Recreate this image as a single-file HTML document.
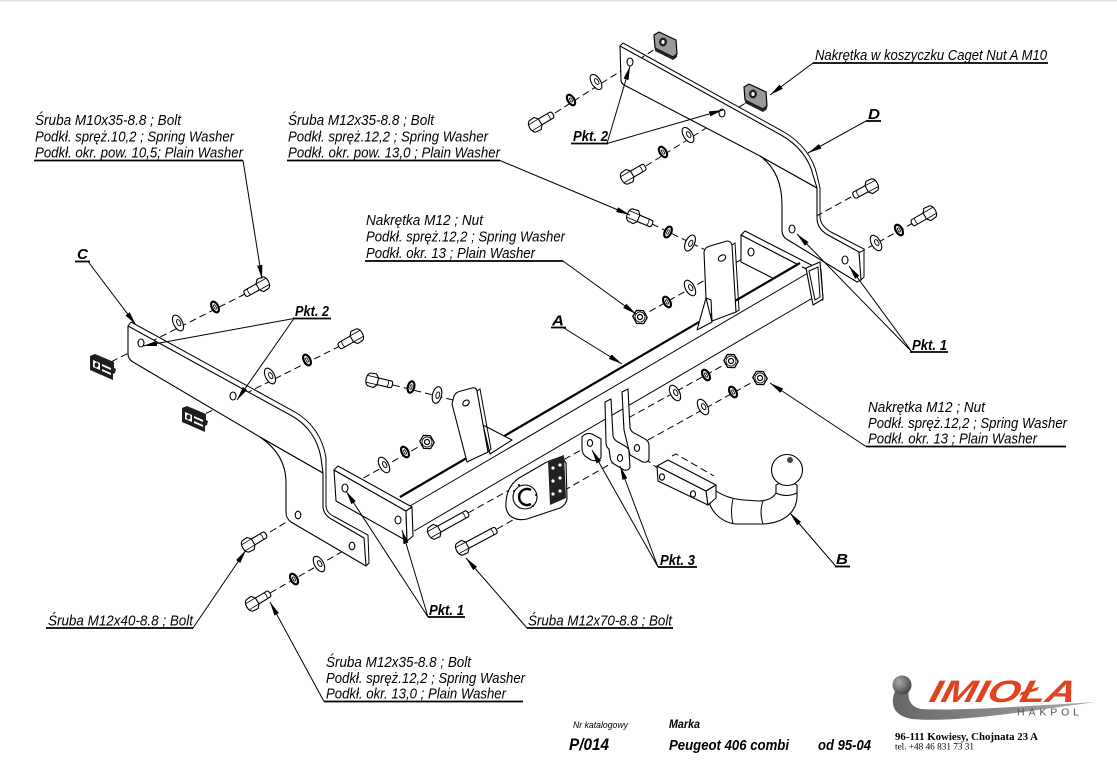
<!DOCTYPE html>
<html><head><meta charset="utf-8"><title>P/014 Peugeot 406 combi</title>
<style>
html,body{margin:0;padding:0;background:#fff;width:1117px;height:780px;overflow:hidden}
svg{display:block}
.t{font-family:"Liberation Sans",Arial,sans-serif;font-style:italic;font-size:15px;fill:#000}
.b{font-family:"Liberation Sans",Arial,sans-serif;font-style:italic;font-weight:bold;font-size:15px;fill:#000}
.u{stroke:#000;stroke-width:1.8}
.l{stroke:#000;stroke-width:1;fill:none}
.d{stroke:#000;stroke-width:1;fill:none;stroke-dasharray:7 4}
.s{stroke:#000;stroke-width:1.1;fill:#fff;stroke-linejoin:round}
.n{stroke:#000;stroke-width:1;fill:none}
</style></head><body>
<svg width="1117" height="780" viewBox="0 0 1117 780" xmlns="http://www.w3.org/2000/svg">
<defs>
<marker id="a" viewBox="0 0 14 6" markerWidth="14" markerHeight="6" refX="14" refY="3" orient="auto" markerUnits="userSpaceOnUse"><path d="M0,0.4 L14,3 L0,5.6 Z" fill="#000"/></marker>
<g id="pw"><ellipse rx="4.5" ry="8.5" fill="#fff" stroke="#000" stroke-width="1.1"/><ellipse cx="0.8" rx="1.8" ry="3.3" fill="#fff" stroke="#000" stroke-width="0.9"/></g>
<g id="sw"><ellipse rx="3.2" ry="5.8" fill="#fff" stroke="#000" stroke-width="2.2"/><ellipse rx="1" ry="2.4" fill="#fff" stroke="#000" stroke-width="0.8"/></g>
<g id="nut"><polygon points="0,-7.5 6,-4 6,4 0,7.5 -6,4 -6,-4" fill="#fff" stroke="#000" stroke-width="1.3"/><circle r="5" fill="none" stroke="#000" stroke-width="0.8"/><circle r="2.5" fill="#fff" stroke="#000" stroke-width="1.2"/></g>
<g id="b">
<path d="M4,-3.4 H19 Q21,-3.4 21,0 Q21,3.4 19,3.4 H4" fill="#fff" stroke="#000" stroke-width="1.1"/>
<path d="M16,-3.4 Q17.5,0 16,3.4" fill="none" stroke="#000" stroke-width="0.8"/>
<path d="M-3,-6.5 L3,-7 L6,-3.5 L6,3.5 L3,7 L-3,6.5 Q-6,5 -6,0 Q-6,-5 -3,-6.5 Z" fill="#fff" stroke="#000" stroke-width="1.1"/>
<path d="M-5.5,-3.5 L6,-3.5 M-5.5,3.5 L6,3.5" stroke="#000" stroke-width="0.8"/>
</g>
<g id="bl">
<path d="M4,-3.4 H37 Q39,-3.4 39,0 Q39,3.4 37,3.4 H4" fill="#fff" stroke="#000" stroke-width="1.1"/>
<path d="M34,-3.4 Q35.5,0 34,3.4" fill="none" stroke="#000" stroke-width="0.8"/>
<path d="M-3,-6.5 L3,-7 L6,-3.5 L6,3.5 L3,7 L-3,6.5 Q-6,5 -6,0 Q-6,-5 -3,-6.5 Z" fill="#fff" stroke="#000" stroke-width="1.1"/>
<path d="M-5.5,-3.5 L6,-3.5 M-5.5,3.5 L6,3.5" stroke="#000" stroke-width="0.8"/>
</g>
<g id="cg">
<path d="M0,1 L5,-1 L24,7 L24,13 L26,14 L25,18 L23,19 L23,25 L0,15 Z" fill="#1e1e1e"/>
<path d="M3,5 L10,8 L10,15 L3,12 Z" fill="#fff"/>
<ellipse cx="6.5" cy="10" rx="2" ry="2.5" fill="#1e1e1e"/>
<path d="M12,9 L21,13 L21,15 L12,11 Z M12,14 L21,18 L21,20 L12,16 Z" fill="#fff"/>
</g>
<g id="cg2">
<path d="M0,1 L5,-2 L22,6 L23,20 L19,23 L1,14 Z" fill="#999" stroke="#000" stroke-width="1.2"/>
<path d="M1,14 L19,23 L23,20 L23,23 L19,26 L1,17 Z" fill="#222"/>
<ellipse cx="9" cy="8" rx="4" ry="4.5" fill="#222"/>
<ellipse cx="9" cy="8" rx="1.6" ry="2" fill="#fff"/>
</g>
<radialGradient id="ball" cx="0.35" cy="0.35" r="0.7"><stop offset="0" stop-color="#aaa"/><stop offset="1" stop-color="#444"/></radialGradient>
<linearGradient id="sw2" x1="0" y1="0" x2="1" y2="0"><stop offset="0" stop-color="#666"/><stop offset="1" stop-color="#aaa"/></linearGradient>
</defs>

<rect x="0" y="0" width="1117" height="1.5" fill="#ddd"/>

<!-- dashed axis lines -->
<path class="d" d="M245,294 L103,366"/>
<path class="d" d="M340,346 L195,419"/>
<path class="d" d="M270,532 L298,515"/>
<path class="d" d="M270,593 L352,546"/>
<path class="d" d="M393,385 L465,403"/>
<path class="d" d="M468,513 L590,445"/>
<path class="d" d="M497,529 L619,459"/>
<path class="d" d="M555,113 L663,44"/>
<path class="d" d="M646,166 L752,99"/>
<path class="d" d="M652,224 L720,257"/>
<path class="d" d="M851,197 L793,229"/>
<path class="d" d="M913,223 L846,260"/>
<path class="d" d="M427,442 L346,488"/>
<path class="d" d="M640,317 L751,254"/>
<path class="d" d="M731,361 L630,417"/>
<path class="d" d="M760,378 L648,440"/>
<path class="d" d="M636,452 L660,470"/>

<!-- Bracket C -->
<path class="s" d="M260,437 L323,473 L323,506 C323,513 327,517 333,520 L364,538 L366,566 L291,522 C287,519 286,516 286,512 L286,482 C286,462 276,448 260,437 Z"/>
<path class="s" d="M128,326 L292,416 C308,425 318,440 321,458 L323,473 L260,437 L133,362 Q128,359 128,354 Z"/>
<path class="n" d="M131,322 L295,412 C312,422 323,438 326,458 L326,505 C326,511 329,514 335,517 L368,535 L369,563 L366,566"/>
<line class="n" x1="128" y1="326" x2="131" y2="322"/>
<ellipse cx="298" cy="515" rx="2.8" ry="3.8" class="s"/>
<ellipse cx="352" cy="546" rx="2.8" ry="3.8" class="s"/>
<ellipse cx="141" cy="343" rx="3" ry="4" class="s"/>
<ellipse cx="233" cy="396" rx="3" ry="4" class="s"/>

<!-- Bracket D -->
<path class="s" d="M760,156 L817,188 L817,218 C817,226 821,231 828,235 L859,252 L861,280 L857,282 L788,240 C784,238 782,235 782,230 L782,205 C782,182 774,166 760,156 Z"/>
<path class="s" d="M620,46 L781,135 C797,144 809,158 813,175 L817,188 L760,156 L626,86 Q621,84 621,80 Z"/>
<path class="n" d="M623,43 L784,132 C801,142 813,157 817,175 L820,188 L820,216 C820,223 824,228 831,232 L864,249 L864,277 L861,280"/>
<line class="n" x1="620" y1="46" x2="623" y2="43"/>
<ellipse cx="630" cy="62" rx="3" ry="4" class="s"/>
<ellipse cx="722" cy="113" rx="3" ry="4" class="s"/>
<ellipse cx="792" cy="229" rx="3" ry="4" class="s"/>
<ellipse cx="845" cy="260" rx="3" ry="4" class="s"/>

<!-- right bar plate (behind bar) -->
<path class="s" d="M741,235 L816,274 L816,300 L741,262 Z"/>
<path class="s" d="M741,235 L745,231 L821,270 L816,274 Z"/>
<path class="s" d="M816,274 L821,270 L823,300 L816,300Z"/>
<ellipse cx="751" cy="252" rx="3" ry="4" class="s"/>

<!-- Main bar A -->
<path d="M398,498 L800,263 L818,296 L414,531 Z" fill="#fff"/>
<line x1="400" y1="497" x2="800" y2="263" stroke="#000" stroke-width="2.2"/>
<line x1="410" y1="506" x2="808" y2="273" class="n"/>
<line x1="414" y1="531" x2="816" y2="296" class="n"/>
<path class="s" d="M806,268 L820,262 L823,299 L813,305 Z"/>
<path class="n" d="M809,271 L818,267 L820,297 L815,300 Z"/>

<!-- left bar plate -->
<path class="s" d="M334,470 L406,511 L407,541 L336,501 Z"/>
<path class="s" d="M334,470 L338,466 L412,507 L406,511 Z"/>
<path class="s" d="M406,511 L412,507 L413,536 L407,541 Z"/>
<ellipse cx="345" cy="488" rx="3" ry="4" class="s"/>
<ellipse cx="398" cy="520" rx="3" ry="4" class="s"/>

<!-- left vertical bracket -->
<path class="s" d="M483,425 L512,440 L490,454 Z"/>
<path class="s" d="M452,404 L454,396 Q456,392 461,391 L472,388 Q476,387 477,391 L488,452 L467,462 Z"/>
<path class="n" d="M477,391 L480,389 L491,449 L488,452"/>
<ellipse cx="466" cy="403" rx="3.5" ry="2.6" transform="rotate(-35 466 403)" class="s"/>

<!-- right vertical bracket -->
<path class="s" d="M706,298 L697,330 L712,322 Z"/>
<path class="s" d="M704,252 Q705,247 710,246 L727,241 Q731,241 732,245 L736,312 L712,321 L711,300 L706,298 Z"/>
<path class="n" d="M732,245 L735,243 L739,310 L736,312"/>
<ellipse cx="722" cy="258" rx="4" ry="2.8" transform="rotate(-30 722 258)" class="s"/>

<!-- electrical socket -->
<path class="s" d="M512,517 Q505,513 506,502 Q507,486 519,478 L545,463 Q556,457 563,459 L566,463 L567,499 Q566,505 560,508 L527,519 Q518,521 512,517 Z"/>
<path d="M548,461 L564,455 L566,498 L550,505 Z" fill="#222"/>
<g fill="#fff"><circle cx="553" cy="468" r="1.6"/><circle cx="560" cy="465" r="1.6"/><circle cx="553" cy="481" r="1.6"/><circle cx="560" cy="478" r="1.6"/><circle cx="553" cy="494" r="1.6"/><circle cx="560" cy="491" r="1.6"/></g>
<circle cx="525" cy="497" r="12" class="s"/>
<path d="M531,490 A8,8 0 1 0 531,504" fill="none" stroke="#000" stroke-width="2.5"/>
<g fill="#000"><circle cx="514" cy="491" r="1"/><circle cx="519" cy="485" r="1"/><circle cx="536" cy="495" r="1"/><circle cx="533" cy="506" r="1"/></g>

<!-- Pkt 3 hitch bracket -->
<path class="s" d="M582,437 Q586,432 592,434 L601,439 L601,458 Q597,462 591,460 L585,456 Q582,453 582,448 Z"/>
<ellipse cx="590" cy="443" rx="2.6" ry="3.4" class="s"/>
<path class="s" d="M622,392 L628,389 L630,428 Q631,432 636,434 L645,439 Q649,441 649,446 L649,459 Q648,463 643,462 L630,455 L624,430 Z"/>
<ellipse cx="637" cy="448" rx="2.6" ry="3.4" class="s"/>
<path class="s" d="M605,402 L611,399 L613,436 Q614,440 618,442 L625,446 Q629,448 629,452 L630,467 Q629,471 624,470 L614,464 Q610,461 610,456 L609,449 Q606,447 606,443 Z"/>
<ellipse cx="620" cy="458" rx="2.6" ry="3.4" class="s"/>

<!-- hitch B -->
<path class="s" d="M712,488 C722,496 732,499 744,500 L758,501 C768,501 773,498 776,493 L797,493 C798,507 790,522 764,524 L735,524 C722,522 714,514 710,505 Z"/>
<path class="n" d="M733,499 Q730,512 733,524 M763,501 Q759,512 763,524"/>
<path class="s" d="M776,485 Q786,479 797,485 L797,493 Q786,498 776,493 Z"/>
<circle cx="787" cy="470" r="15.5" class="s"/>
<circle cx="790" cy="460" r="3" fill="#444"/>
<path class="s" d="M657,466 L706,491 L708,505 L658,481 Z"/>
<path class="s" d="M657,466 L668,460 L716,485 L706,491 Z"/>
<path class="s" d="M706,491 L716,485 L716,498 L708,505 Z"/>
<ellipse cx="662" cy="477" rx="2.5" ry="3.2" class="s"/>
<ellipse cx="693" cy="494" rx="2.5" ry="3.2" class="s"/>
<path class="d" d="M672,456 L676,454 L714,476"/>

<!-- bolts -->
<use href="#b" transform="translate(263,284) rotate(151)"/>
<use href="#b" transform="translate(357,336) rotate(150)"/>
<use href="#b" transform="translate(248,545) rotate(-31)"/>
<use href="#b" transform="translate(252,604) rotate(-31)"/>
<use href="#b" transform="translate(372,380) rotate(13)"/>
<use href="#bl" transform="translate(434,532) rotate(-29)"/>
<use href="#bl" transform="translate(462,548) rotate(-28)"/>
<use href="#b" transform="translate(535,125) rotate(-31)"/>
<use href="#b" transform="translate(627,177) rotate(-30)"/>
<use href="#b" transform="translate(633,216) rotate(23)"/>
<use href="#b" transform="translate(872,186) rotate(152)"/>
<use href="#b" transform="translate(930,213) rotate(150)"/>

<!-- washers & nuts -->
<use href="#sw" transform="translate(215,307) rotate(-27)"/>
<use href="#pw" transform="translate(178,323) rotate(-27)"/>
<use href="#sw" transform="translate(307,360) rotate(-27)"/>
<use href="#pw" transform="translate(270,376) rotate(-27)"/>
<use href="#sw" transform="translate(294,579) rotate(-30)"/>
<use href="#pw" transform="translate(319,564) rotate(-30)"/>
<use href="#nut" transform="translate(427,442) rotate(-29)"/>
<use href="#sw" transform="translate(405,452) rotate(-29)"/>
<use href="#pw" transform="translate(384,465) rotate(-29)"/>
<use href="#sw" transform="translate(411,387) rotate(14)"/>
<use href="#pw" transform="translate(437,395) rotate(14)"/>
<use href="#sw" transform="translate(571,100) rotate(-32)"/>
<use href="#pw" transform="translate(596,82) rotate(-32)"/>
<use href="#sw" transform="translate(663,152) rotate(-32)"/>
<use href="#pw" transform="translate(688,135) rotate(-32)"/>
<use href="#sw" transform="translate(668,232) rotate(25)"/>
<use href="#pw" transform="translate(690,243) rotate(25)"/>
<use href="#nut" transform="translate(640,317) rotate(-29)"/>
<use href="#sw" transform="translate(667,302) rotate(-29)"/>
<use href="#pw" transform="translate(690,288) rotate(-29)"/>
<use href="#sw" transform="translate(899,230) rotate(-30)"/>
<use href="#pw" transform="translate(876,243) rotate(-30)"/>
<use href="#nut" transform="translate(731,361) rotate(-29)"/>
<use href="#sw" transform="translate(706,375) rotate(-29)"/>
<use href="#pw" transform="translate(675,393) rotate(-29)"/>
<use href="#nut" transform="translate(760,378) rotate(-29)"/>
<use href="#sw" transform="translate(733,392) rotate(-29)"/>
<use href="#pw" transform="translate(703,407) rotate(-29)"/>

<!-- caged nuts -->
<use href="#cg" transform="translate(90,355)"/>
<use href="#cg" transform="translate(182,407)"/>
<use href="#cg2" transform="translate(654,34)"/>
<use href="#cg2" transform="translate(744,86)"/>

<!-- leaders -->
<g class="l" marker-end="url(#a)">
<path d="M243,160.5 L262,279"/>
<path d="M500,160.5 L630,215"/>
<path d="M563,261 L636,314"/>
<path d="M813,63 L770,95"/>
<path d="M866,121 L808,153"/>
<path d="M88,261.5 L136,325"/>
<path d="M294,318.5 L143,346"/>
<path d="M294,318.5 L237,400"/>
<path d="M607,143.5 L630,66"/>
<path d="M607,143.5 L723,110"/>
<path d="M563,327.5 L622,364"/>
<path d="M912,352 L797,234"/>
<path d="M912,352 L849,266"/>
<path d="M866,446.5 L770,383"/>
<path d="M836,566.5 L790,513"/>
<path d="M658,567 L592,450"/>
<path d="M658,567 L620,466"/>
<path d="M428,617 L346,491"/>
<path d="M428,617 L402,530"/>
<path d="M527,628 L466,558"/>
<path d="M193,628 L246,550"/>
<path d="M324,701.5 L270,602"/>
</g>

<!-- underlines -->
<g class="u">
<line x1="34" y1="160.5" x2="243" y2="160.5"/>
<line x1="287" y1="160.5" x2="500" y2="160.5"/>
<line x1="365" y1="261" x2="563" y2="261"/>
<line x1="813" y1="63" x2="1048" y2="63"/>
<line x1="866" y1="446.5" x2="1066" y2="446.5"/>
<line x1="527" y1="628" x2="673" y2="628"/>
<line x1="46" y1="628" x2="193" y2="628"/>
<line x1="324" y1="701.5" x2="523" y2="701.5"/>
<line x1="75" y1="261.5" x2="90" y2="261.5"/>
<line x1="293" y1="318.5" x2="331" y2="318.5"/>
<line x1="571" y1="143.5" x2="608" y2="143.5"/>
<line x1="866" y1="121" x2="881" y2="121"/>
<line x1="551" y1="327.5" x2="566" y2="327.5"/>
<line x1="910" y1="352" x2="948" y2="352"/>
<line x1="428" y1="617" x2="465" y2="617"/>
<line x1="658" y1="567" x2="697" y2="567"/>
<line x1="835" y1="566.5" x2="850" y2="566.5"/>
</g>

<!-- labels -->
<text class="t" x="35" y="125" textLength="146" lengthAdjust="spacingAndGlyphs">Śruba M10x35-8.8 ;  Bolt</text>
<text class="t" x="35" y="141.5" textLength="199" lengthAdjust="spacingAndGlyphs">Podkł. spręż.10,2 ; Spring Washer</text>
<text class="t" x="35" y="157.5" textLength="208" lengthAdjust="spacingAndGlyphs">Podkł. okr. pow. 10,5; Plain Washer</text>

<text class="t" x="288" y="125" textLength="146" lengthAdjust="spacingAndGlyphs">Śruba M12x35-8.8 ;  Bolt</text>
<text class="t" x="288" y="141.5" textLength="200" lengthAdjust="spacingAndGlyphs">Podkł. spręż.12,2 ; Spring Washer</text>
<text class="t" x="288" y="157.5" textLength="212" lengthAdjust="spacingAndGlyphs">Podkł. okr. pow. 13,0 ; Plain Washer</text>

<text class="t" x="366" y="225" textLength="117" lengthAdjust="spacingAndGlyphs">Nakrętka  M12 ; Nut</text>
<text class="t" x="366" y="241.5" textLength="199" lengthAdjust="spacingAndGlyphs">Podkł. spręż.12,2 ; Spring Washer</text>
<text class="t" x="366" y="258" textLength="169" lengthAdjust="spacingAndGlyphs">Podkł. okr. 13 ; Plain Washer</text>

<text class="t" x="815" y="60" textLength="232" lengthAdjust="spacingAndGlyphs">Nakrętka w koszyczku Caget Nut A M10</text>

<text class="t" x="868" y="412" textLength="117" lengthAdjust="spacingAndGlyphs">Nakrętka  M12 ; Nut</text>
<text class="t" x="868" y="428" textLength="199" lengthAdjust="spacingAndGlyphs">Podkł. spręż.12,2 ; Spring Washer</text>
<text class="t" x="868" y="443.5" textLength="169" lengthAdjust="spacingAndGlyphs">Podkł. okr. 13 ; Plain Washer</text>

<text class="t" x="528" y="625.5" textLength="144" lengthAdjust="spacingAndGlyphs">Śruba M12x70-8.8 ;  Bolt</text>
<text class="t" x="48" y="625.5" textLength="145" lengthAdjust="spacingAndGlyphs">Śruba M12x40-8.8 ;  Bolt</text>

<text class="t" x="326" y="667" textLength="145" lengthAdjust="spacingAndGlyphs">Śruba M12x35-8.8 ;  Bolt</text>
<text class="t" x="326" y="683" textLength="199" lengthAdjust="spacingAndGlyphs">Podkł. spręż.12,2 ; Spring Washer</text>
<text class="t" x="326" y="698.5" textLength="180" lengthAdjust="spacingAndGlyphs">Podkł. okr. 13,0 ; Plain Washer</text>

<text class="b" x="77" y="259" textLength="11" lengthAdjust="spacingAndGlyphs">C</text>
<text class="b" x="295" y="316" textLength="34" lengthAdjust="spacingAndGlyphs">Pkt. 2</text>
<text class="b" x="573" y="141" textLength="35" lengthAdjust="spacingAndGlyphs">Pkt. 2</text>
<text class="b" x="868" y="119" textLength="12" lengthAdjust="spacingAndGlyphs">D</text>
<text class="b" x="552" y="325.5" textLength="12" lengthAdjust="spacingAndGlyphs">A</text>
<text class="b" x="912" y="350" textLength="35" lengthAdjust="spacingAndGlyphs">Pkt. 1</text>
<text class="b" x="429" y="615" textLength="35" lengthAdjust="spacingAndGlyphs">Pkt. 1</text>
<text class="b" x="660" y="565" textLength="35" lengthAdjust="spacingAndGlyphs">Pkt. 3</text>
<text class="b" x="836" y="564" textLength="12" lengthAdjust="spacingAndGlyphs">B</text>

<!-- footer -->
<text class="t" x="573" y="728" style="font-size:9px" textLength="55" lengthAdjust="spacingAndGlyphs">Nr katalogowy</text>
<text class="b" x="669" y="728" style="font-size:11.5px" textLength="31" lengthAdjust="spacingAndGlyphs">Marka</text>
<text class="b" x="569" y="750" style="font-size:17px" textLength="40" lengthAdjust="spacingAndGlyphs">P/014</text>
<text class="b" x="669" y="750" style="font-size:15px" textLength="120" lengthAdjust="spacingAndGlyphs">Peugeot 406 combi</text>
<text class="b" x="818" y="750" style="font-size:15px" textLength="53" lengthAdjust="spacingAndGlyphs">od 95-04</text>

<!-- logo -->
<path d="M896,689 C889,703 893,716 912,719 C958,723 1028,711 1096,702 C1028,706 958,711 921,709 C911,707 907,700 909,689 Z" fill="url(#sw2)"/>
<circle cx="902" cy="685" r="9.5" fill="url(#ball)"/>
<text transform="translate(928,702) skewX(-14)" x="0" y="0" style="font-family:'Liberation Sans',Arial,sans-serif;font-weight:bold;font-style:italic;font-size:31px;fill:#e2431e" textLength="146" lengthAdjust="spacingAndGlyphs">IMIOŁA</text>
<text x="1017" y="715.5" style="font-family:'Liberation Sans',Arial,sans-serif;font-size:10.5px;fill:#555" textLength="62" lengthAdjust="spacing">HAKPOL</text>
<text x="895" y="740" style="font-family:'Liberation Serif',serif;font-weight:bold;font-size:11px;fill:#000" textLength="143" lengthAdjust="spacingAndGlyphs">96-111 Kowiesy, Chojnata 23 A</text>
<text x="895" y="749.5" style="font-family:'Liberation Serif',serif;font-size:9px;fill:#000" textLength="79" lengthAdjust="spacingAndGlyphs">tel. +48 46 831 73 31</text>
</svg>
</body></html>
